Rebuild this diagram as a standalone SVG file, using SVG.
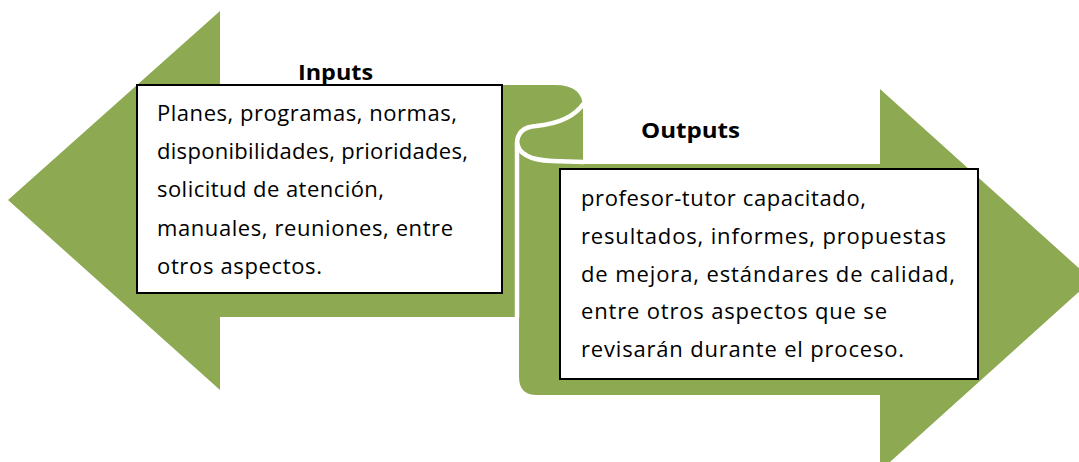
<svg xmlns="http://www.w3.org/2000/svg" width="1079" height="462" viewBox="0 0 1079 462">
  <style>
    .shape { fill: #8DA952; }
    .curl { fill: none; stroke: #FFFFFF; stroke-width: 4.5; }
    .box { fill: #FFFFFF; stroke: #000000; stroke-width: 2; }
    .body { font-family: "Open Sans", Lato, "Liberation Sans", sans-serif; font-size: 22px; fill: #000000; }
    .title { font-family: "Open Sans", Lato, "Liberation Sans", sans-serif; font-size: 22px; font-weight: bold; fill: #000000; }
  </style>
  <g id="connectors">
    <path class="shape" d="M8,200 L220,11 L220,85 L555,85 Q583,85 583,108 L583,164 L880,164 L880,89 L1092,280 L880,471 L880,395 L537,395 Q519,395 519,377 L519,317 L220,317 L220,390 Z"/>
    <path class="curl" d="M584,103 C574,118 556,124 536,126 C523,127 517,133 517,144 L517,318"/>
    <path class="curl" d="M517,142 C518,154 530,160 552,161 L584,162"/>
  </g>
  <g id="inputs">
    <text class="title" x="298" y="80" textLength="75" lengthAdjust="spacingAndGlyphs">Inputs</text>
    <rect class="box" x="137" y="85" width="365" height="208"/>
    <text class="body" x="157" y="121" textLength="300">Planes, programas, normas,</text>
    <text class="body" x="157" y="159" textLength="311">disponibilidades, prioridades,</text>
    <text class="body" x="157" y="197" textLength="227">solicitud de atención,</text>
    <text class="body" x="157" y="236" textLength="296">manuales, reuniones, entre</text>
    <text class="body" x="157" y="274" textLength="165">otros aspectos.</text>
  </g>
  <g id="outputs">
    <text class="title" x="641" y="138" textLength="99" lengthAdjust="spacingAndGlyphs">Outputs</text>
    <rect class="box" x="560" y="169" width="418" height="210"/>
    <text class="body" x="581" y="206" textLength="285">profesor-tutor capacitado,</text>
    <text class="body" x="581" y="244" textLength="365">resultados, informes, propuestas</text>
    <text class="body" x="581" y="282" textLength="374">de mejora, estándares de calidad,</text>
    <text class="body" x="581" y="319" textLength="306">entre otros aspectos que se</text>
    <text class="body" x="581" y="357" textLength="323">revisarán durante el proceso.</text>
  </g>
</svg>
